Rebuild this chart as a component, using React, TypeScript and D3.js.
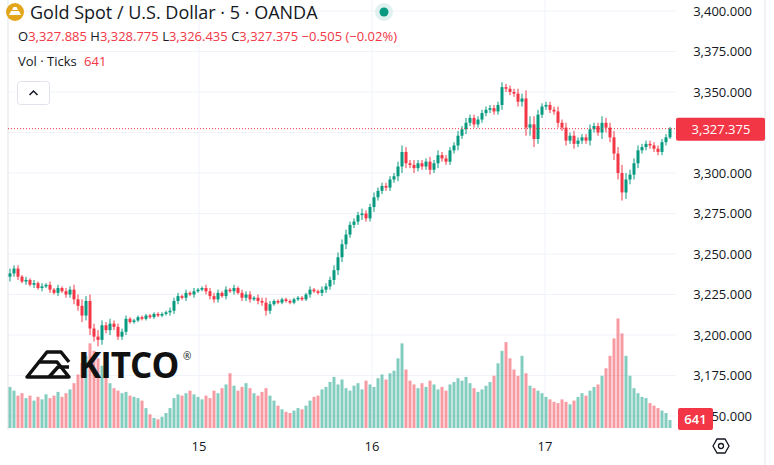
import React from 'react';
import * as d3 from 'd3';

const closes = [
  3238, 3241, 3236, 3233, 3234, 3231, 3232, 3229, 3230, 3231,
  3228, 3226, 3229, 3227, 3225, 3228, 3222, 3218, 3212, 3221,
  3204, 3199, 3197, 3206, 3203, 3207, 3205, 3199, 3202, 3210,
  3208, 3209, 3211, 3210, 3212, 3211, 3213, 3212, 3213, 3214,
  3215, 3221, 3224, 3223, 3226, 3225, 3227, 3228, 3229, 3227,
  3224, 3222, 3226, 3224, 3228, 3227, 3229, 3226, 3223, 3225,
  3222, 3223, 3221, 3220, 3215, 3219, 3221, 3220, 3222, 3221,
  3220, 3222, 3223, 3222, 3225, 3228, 3227, 3226, 3228, 3230,
  3234, 3240, 3248, 3256, 3262, 3268, 3270, 3274, 3275, 3272,
  3279, 3285, 3289, 3292, 3291, 3296, 3298, 3304, 3313, 3306,
  3305, 3303, 3306, 3304, 3307, 3302, 3306, 3311, 3309, 3307,
  3314, 3317, 3323, 3327, 3331, 3334, 3330, 3333, 3337, 3339,
  3340, 3338, 3342, 3353, 3352, 3350, 3349, 3344, 3346, 3328,
  3330, 3321, 3336, 3341, 3342, 3339, 3338, 3331, 3328, 3320,
  3323, 3318, 3320, 3322, 3320, 3327, 3329, 3325, 3331, 3328,
  3322, 3312, 3300, 3288, 3296, 3299, 3306, 3314, 3316, 3318,
  3317, 3315, 3313, 3319, 3322, 3327.375,
];
const wicks = [
  3, 2, 2, 1, 2, 1, 2, 1, 2, 1, 2, 1, 2, 1, 2, 2, 3, 3, 4, 3,
  4, 3, 4, 3, 2, 3, 2, 2, 2, 2, 1, 1, 1, 1, 1, 1, 1, 1, 1, 1,
  2, 2, 2, 1, 2, 1, 2, 1, 1, 2, 2, 2, 2, 1, 2, 1, 2, 1, 2, 2,
  2, 1, 2, 2, 3, 2, 1, 1, 1, 1, 1, 1, 1, 1, 1, 2, 1, 1, 2, 2,
  2, 3, 3, 3, 3, 2, 2, 2, 3, 2, 2, 3, 2, 2, 2, 2, 2, 3, 4, 3,
  2, 3, 2, 2, 2, 3, 2, 3, 2, 2, 2, 2, 3, 2, 3, 2, 2, 2, 2, 2,
  2, 2, 2, 3, 2, 2, 2, 3, 3, 5, 5, 5, 3, 2, 2, 2, 2, 3, 2, 3,
  2, 3, 2, 2, 2, 3, 2, 2, 4, 3, 3, 4, 4, 5, 4, 3, 3, 3, 2, 2,
  2, 2, 2, 2, 2, 1,
];
const volumes = [
  3300, 3000, 2600, 2800, 2400, 2600, 2200, 2500, 2300, 2700,
  2400, 2600, 2900, 2500, 2800, 3100, 3600, 4300, 5200, 5800,
  6800, 6200, 5600, 5000, 4300, 3600, 3200, 3000, 2800, 2900,
  2600, 2500, 2400, 2200, 1600, 1100, 800, 700, 900, 1200,
  1600, 2400, 2700, 2600, 2800, 3000, 2700, 2500, 2300, 2600,
  2400, 3000, 2800, 3200, 3500, 4400, 3400, 3000, 3300, 3600,
  3200, 2800, 2600, 2900, 3200, 2600, 2200, 1800, 1500, 1300,
  1200, 1400, 1600, 1500, 1800, 2200, 2500, 2600, 3100, 3300,
  3700, 4100, 3500, 3900, 3200, 3000, 3400, 3600, 3100, 3800,
  3500, 3300, 4000, 4300, 3900, 4400, 4600, 5600, 6800, 4700,
  3800, 3500, 3200, 3600, 3300, 3800, 3500, 3100, 3300, 3000,
  3500, 3700, 4000, 3800, 4100, 3600, 3200, 2900, 3100, 3400,
  3700, 4200, 5200, 6200, 6900, 5600, 4700, 4200, 5800, 4400,
  3400, 3200, 3000, 2800, 2500, 2300, 2100, 2000, 2300, 2100,
  1900, 2200, 2500, 2800, 2600, 3000, 3300, 3500, 4200, 4800,
  5800, 7200, 8800, 7600, 5800, 4200, 3200, 2800, 2500, 2400,
  2000, 1800, 1600, 1400, 1200, 641,
];
const priceTicks = [3150, 3175, 3200, 3225, 3250, 3275, 3300, 3325, 3350, 3375, 3400];
const dayLabels = ['15', '16', '17'];
const dayStarts = [47.25, 90.5, 133.75];

const UP = '#089981';
const DOWN = '#F23645';
const fmt = d3.format(',.3f');

export default function App() {
  const W = 774, H = 465;
  const x = d3.scaleLinear().domain([0, closes.length - 1]).range([10, 670]);
  const y = d3.scaleLinear().domain([3150, 3400]).range([416, 11]);
  const yv = d3.scaleLinear().domain([0, 9000]).range([428, 316]);
  const last = closes[closes.length - 1];

  const candles = closes.map((c, i) => {
    const o = i === 0 ? c - 2 : closes[i - 1];
    const hi = Math.max(o, c) + wicks[i];
    const lo = Math.min(o, c) - wicks[i];
    return { i, o, c, hi, lo, up: c >= o };
  });

  return (
    <svg width={W} height={H} style={{ position: 'absolute', left: 0, top: 0, fontFamily: '"Open Sans", "Noto Sans", sans-serif' }}>
      <rect width={W} height={H} fill="#fff" />
      {/* grid */}
      {priceTicks.map(t => (
        <line key={t} x1={8} x2={676} y1={y(t)} y2={y(t)} stroke="#f0f3fa" />
      ))}
      {dayStarts.map(d => (
        <line key={d} x1={x(d)} x2={x(d)} y1={0} y2={430} stroke="#f0f3fa" />
      ))}
      <line x1={8} x2={8} y1={0} y2={430} stroke="#e0e3eb" />
      <line x1={765} x2={765} y1={0} y2={465} stroke="#e0e3eb" />

      {/* volume */}
      {candles.map(d => (
        <rect key={'v' + d.i} x={x(d.i) - 1.5} width={3} y={yv(volumes[d.i])}
          height={428 - yv(volumes[d.i])}
          fill={d.up ? 'rgba(8,153,129,0.5)' : 'rgba(242,54,69,0.5)'} />
      ))}

      {/* KITCO logo */}
      <g transform="translate(27,350)" fill="none" stroke="#111" strokeWidth={3.5} strokeLinejoin="round">
        <path d="M0,27 L12,12 L30,12 L42,27 Z" />
        <path d="M12,12 L20,2 L34,2 L42,12" />
        <path d="M22,27 L31,17 L42,17" />
      </g>
      <text x={78} y={378} fontSize={35} fontWeight={700} fill="#111" letterSpacing={-1}>KITCO</text>
      <text x={183} y={360} fontSize={10} fill="#111">®</text>

      {/* candles */}
      {candles.map(d => {
        const col = d.up ? UP : DOWN;
        const top = y(Math.max(d.o, d.c));
        const bh = Math.max(1, y(Math.min(d.o, d.c)) - top);
        return (
          <g key={'c' + d.i}>
            <line x1={x(d.i)} x2={x(d.i)} y1={y(d.hi)} y2={y(d.lo)} stroke={col} strokeWidth={1} />
            <rect x={x(d.i) - 1.5} width={3} y={top} height={bh} fill={col} />
          </g>
        );
      })}

      {/* last price line */}
      <line x1={8} x2={676} y1={y(last)} y2={y(last)} stroke={DOWN} strokeDasharray="1,2" />

      {/* price axis */}
      {priceTicks.map(t => (
        <text key={'t' + t} x={752} y={y(t) + 4.5} textAnchor="end" fontSize={13} fill="#131722">{fmt(t)}</text>
      ))}
      <rect x={676} y={y(last) - 11} width={89} height={23} rx={2} fill={DOWN} />
      <text x={721} y={y(last) + 5} textAnchor="middle" fontSize={13} fill="#fff">{fmt(last)}</text>
      <rect x={678} y={408} width={35} height={22} rx={2} fill={DOWN} />
      <text x={695.5} y={424} textAnchor="middle" fontSize={13} fontWeight={600} fill="#fff">641</text>

      {/* time axis */}
      {dayLabels.map((l, k) => (
        <text key={l} x={x(dayStarts[k])} y={451} textAnchor="middle" fontSize={13} fill="#131722">{l}</text>
      ))}
      <g transform="translate(721,446)">
        <path d="M-8,0 L-4,-7 L4,-7 L8,0 L4,7 L-4,7 Z" fill="none" stroke="#131722" strokeWidth={1.3} />
        <circle r={2.5} fill="none" stroke="#131722" strokeWidth={1.3} />
      </g>

      {/* header */}
      <circle cx={15} cy={12} r={9} fill="#e3a61b" />
      <path d="M9,15 L11,11 L19,11 L21,15 Z M12,10 L13.5,7 L16.5,7 L18,10 Z" fill="#fff" />
      <text x={30} y={19} fontSize={18} fill="#131722">Gold Spot / U.S. Dollar · 5 · OANDA</text>
      <circle cx={384} cy={12} r={9} fill="#e0f2ef" />
      <circle cx={384} cy={12} r={4.5} fill={UP} />
      <text x={18} y={41} fontSize={13} fill={DOWN}>
        <tspan fill="#131722">O</tspan>3,327.885 <tspan fill="#131722">H</tspan>3,328.775 <tspan fill="#131722">L</tspan>3,326.435 <tspan fill="#131722">C</tspan>3,327.375 −0.505 (−0.02%)
      </text>
      <text x={18} y={66} fontSize={13} fill="#131722">Vol · Ticks <tspan dx={4} fill={DOWN}>641</tspan></text>
      <rect x={17.5} y={81.5} width={32} height={23} rx={3} fill="#fff" stroke="#e0e3eb" />
      <path d="M29.5,95 L33.5,91 L37.5,95" fill="none" stroke="#131722" strokeWidth={1.5} />
    </svg>
  );
}
